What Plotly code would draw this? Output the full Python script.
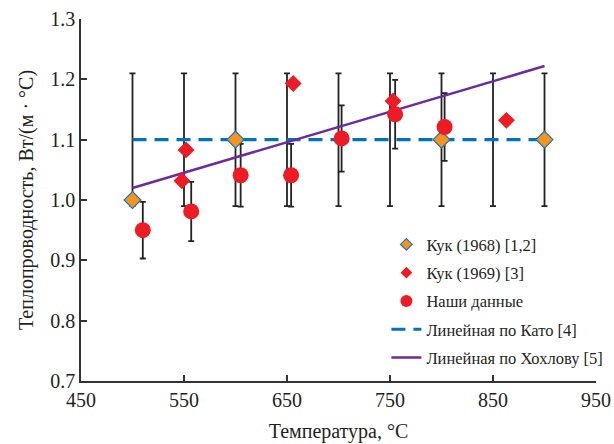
import plotly.graph_objects as go

# Кук (1968)
kuk68_x = [500, 600, 800, 900]
kuk68_y = [1.00, 1.10, 1.10, 1.10]

# Кук (1969)
kuk69_x = [548, 552, 656, 753, 863]
kuk69_y = [1.032, 1.083, 1.193, 1.164, 1.132]

# Наши данные
our_x = [510, 557, 605, 654, 703, 755, 803]
our_y = [0.950, 0.981, 1.041, 1.041, 1.102, 1.142, 1.121]
our_err = [0.047, 0.049, 0.052, 0.052, 0.055, 0.057, 0.056]

# Линейная по Като
kato_x = [500, 550, 600, 650, 700, 750, 800, 850, 900]
kato_y = [1.10, 1.10, 1.10, 1.10, 1.10, 1.10, 1.10, 1.10, 1.10]
kato_err = [0.11, 0.11, 0.11, 0.11, 0.11, 0.11, 0.11, 0.11, 0.11]

# Линейная по Хохлову
hoh_x = [500, 900]
hoh_y = [1.02, 1.222]

x_ticks = [450, 550, 650, 750, 850, 950]
y_ticks = [0.7, 0.8, 0.9, 1.0, 1.1, 1.2, 1.3]

FONT = "Liberation Serif, Times New Roman, DejaVu Serif, serif"
TXT = "#231F20"
RED = "#ED1C24"
ORANGE = "#F7941D"
BLUE_EDGE = "#1B75BC"
ERR = dict(type="data", visible=True, color="#222222", thickness=1.8, width=3)

fig = go.Figure()

# Като error bars
fig.add_trace(go.Scatter(
    x=kato_x, y=kato_y, mode="markers",
    marker=dict(size=1, opacity=0),
    error_y=dict(array=kato_err, **ERR),
    showlegend=False, hoverinfo="skip"))

# Наши данные error bars
fig.add_trace(go.Scatter(
    x=our_x, y=our_y, mode="markers",
    marker=dict(size=1, opacity=0),
    error_y=dict(array=our_err, **ERR),
    showlegend=False, hoverinfo="skip"))

fig.add_trace(go.Scatter(
    x=kato_x, y=kato_y, mode="lines",
    line=dict(color="#0072BC", width=3.2, dash="14px,8px"),
    name="Линейная по Като [4]", legendgroup="kato", legendrank=4))

fig.add_trace(go.Scatter(
    x=hoh_x, y=hoh_y, mode="lines",
    line=dict(color="#6A2C9E", width=2.6),
    name="Линейная по Хохлову [5]", legendgroup="hoh", legendrank=5))

fig.add_trace(go.Scatter(
    x=kuk68_x, y=kuk68_y, mode="markers",
    marker=dict(symbol="diamond", size=13, color=ORANGE,
                line=dict(color=BLUE_EDGE, width=1.2)),
    showlegend=False))

fig.add_trace(go.Scatter(
    x=kuk69_x, y=kuk69_y, mode="markers",
    marker=dict(symbol="diamond", size=13, color=RED, line=dict(width=0)),
    showlegend=False))

fig.add_trace(go.Scatter(
    x=our_x, y=our_y, mode="markers",
    marker=dict(symbol="circle", size=16, color=RED, line=dict(width=0)),
    showlegend=False))

# legend-only entries with the smaller legend symbols
fig.add_trace(go.Scatter(
    x=[None], y=[None], mode="markers",
    marker=dict(symbol="diamond", size=9, color=ORANGE,
                line=dict(color=BLUE_EDGE, width=1.2)),
    name="Кук (1968) [1,2]", legendgroup="k68", legendrank=1))
fig.add_trace(go.Scatter(
    x=[None], y=[None], mode="markers",
    marker=dict(symbol="diamond", size=9, color=RED, line=dict(width=0)),
    name="Кук (1969) [3]", legendgroup="k69", legendrank=2))
fig.add_trace(go.Scatter(
    x=[None], y=[None], mode="markers",
    marker=dict(symbol="circle", size=12, color=RED, line=dict(width=0)),
    name="Наши данные", legendgroup="our", legendrank=3))

axis_common = dict(
    showline=True, linecolor="#333333", linewidth=1.5,
    ticks="inside", ticklen=6, tickwidth=1.5, tickcolor="#333333",
    showgrid=False, zeroline=False,
    tickfont=dict(family=FONT, size=20, color=TXT),
    title_font=dict(family=FONT, size=20, color=TXT),
)

fig.update_xaxes(range=[450, 950], tickvals=x_ticks,
                 ticktext=[str(v) for v in x_ticks],
                 title_text="Температура, °C", title_standoff=14,
                 **axis_common)
fig.update_yaxes(range=[0.7, 1.3], tickvals=y_ticks,
                 ticktext=[f"{v:.1f}" for v in y_ticks],
                 title_text="Теплопроводность, Вт/(м · °С)", title_standoff=11,
                 **axis_common)

fig.update_layout(
    width=614, height=444,
    margin=dict(l=81, r=18, t=19, b=63, autoexpand=False),
    paper_bgcolor="white", plot_bgcolor="white",
    font=dict(family=FONT, color=TXT),
    legend=dict(x=0.593, y=0.425, xanchor="left", yanchor="top",
                bgcolor="rgba(0,0,0,0)", borderwidth=0,
                font=dict(family=FONT, size=16.5, color=TXT),
                traceorder="grouped", tracegroupgap=3.85),
    showlegend=True,
)

fig.write_html("out.html")
